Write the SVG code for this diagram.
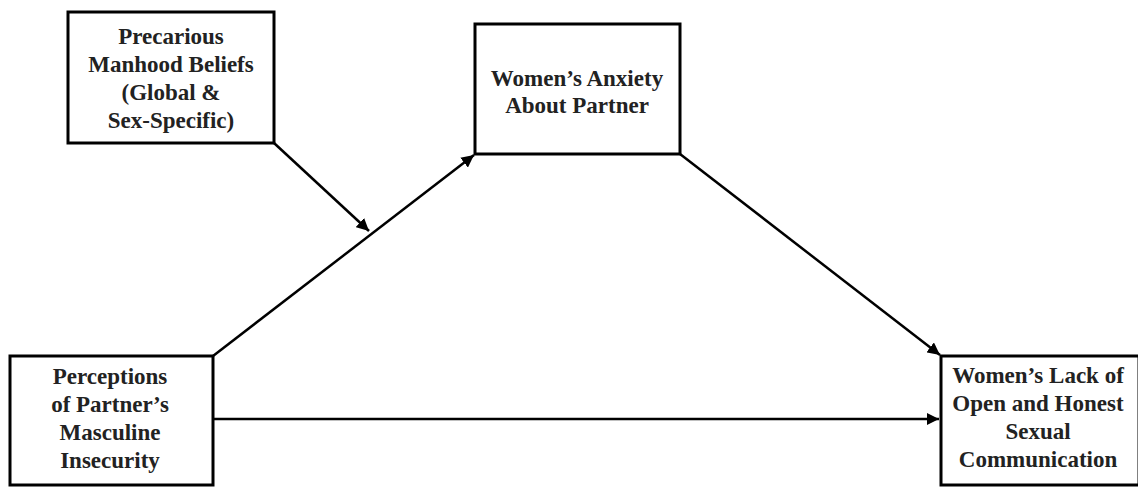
<svg xmlns="http://www.w3.org/2000/svg" width="1138" height="487" viewBox="0 0 1138 487">
<style>
.box{fill:#fff;stroke:#000;stroke-width:3}
.t{font-family:"Liberation Serif","Times New Roman",serif;font-weight:bold;font-size:23px;fill:#222;text-anchor:middle}
.c{stroke:#000;stroke-width:2.5;fill:none}
</style>
<defs>
<marker id="ah" viewBox="0 0 10 10" refX="10" refY="5" markerWidth="5" markerHeight="5" orient="auto" markerUnits="strokeWidth">
<path d="M0,0 L10,5 L0,10 z" fill="#000"/>
</marker>
</defs>
<rect width="1138" height="487" fill="#fff"/>
<g id="connectors">
<line class="c" x1="213" y1="356" x2="474" y2="155" marker-end="url(#ah)"/>
<line class="c" x1="680" y1="154" x2="940" y2="355" marker-end="url(#ah)"/>
<line class="c" x1="213" y1="419" x2="939" y2="419" marker-end="url(#ah)"/>
<line class="c" x1="274" y1="143" x2="369" y2="231" marker-end="url(#ah)"/>
</g>
<g id="precarious">
<rect class="box" x="68" y="12" width="206" height="131"/>
<text class="t" x="171" y="44">Precarious</text>
<text class="t" x="171" y="72">Manhood Beliefs</text>
<text class="t" x="171" y="100">(Global &amp;</text>
<text class="t" x="171" y="128">Sex-Specific)</text>
</g>
<g id="anxiety">
<rect class="box" x="475" y="24" width="205" height="130"/>
<text class="t" x="577" y="86">Women’s Anxiety</text>
<text class="t" x="577" y="113">About Partner</text>
</g>
<g id="perceptions">
<rect class="box" x="10" y="356" width="203" height="129"/>
<text class="t" x="110" y="384">Perceptions</text>
<text class="t" x="110" y="412">of Partner’s</text>
<text class="t" x="110" y="440">Masculine</text>
<text class="t" x="110" y="468">Insecurity</text>
</g>
<g id="lack">
<rect class="box" x="941" y="356" width="198" height="129"/>
<text class="t" x="1038" y="383">Women’s Lack of</text>
<text class="t" x="1038" y="411">Open and Honest</text>
<text class="t" x="1038" y="439">Sexual</text>
<text class="t" x="1038" y="467">Communication</text>
</g>
</svg>
